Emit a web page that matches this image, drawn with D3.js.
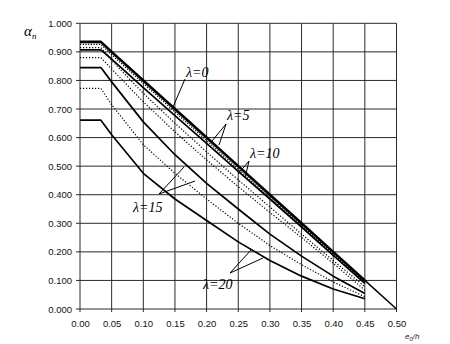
<!DOCTYPE html>
<html><head><meta charset="utf-8">
<script src="https://cdn.jsdelivr.net/npm/d3@7"></script>
<style>
html,body{margin:0;padding:0;background:#fff;}
svg{display:block;}
.tick text{font-family:"Liberation Sans",Arial,sans-serif;font-size:9.5px;fill:#111;}
</style></head>
<body>
<script>
// e0/h sample positions
const xPoints = [0, 0.033, 0.05, 0.10, 0.15, 0.20, 0.25, 0.30, 0.35, 0.40, 0.45];
// curves (alpha_n values at xPoints)
const lam0Solid  = [0.935, 0.935, 0.900, 0.800, 0.700, 0.600, 0.500, 0.400, 0.300, 0.200, 0.100];
const lam0Dotted = [0.926, 0.926, 0.890, 0.790, 0.690, 0.590, 0.490, 0.390, 0.292, 0.192, 0.094];
const lam5Solid  = [0.907, 0.907, 0.875, 0.775, 0.677, 0.580, 0.482, 0.385, 0.287, 0.188, 0.090];
const lam5Dotted = [0.915, 0.915, 0.870, 0.755, 0.650, 0.550, 0.452, 0.357, 0.262, 0.170, 0.078];
const lam10Dotted= [0.880, 0.880, 0.840, 0.725, 0.620, 0.522, 0.428, 0.338, 0.250, 0.160, 0.066];
const lam10Solid = [0.845, 0.845, 0.795, 0.655, 0.540, 0.440, 0.350, 0.262, 0.185, 0.115, 0.054];
const lam15Dotted= [0.772, 0.772, 0.715, 0.575, 0.475, 0.385, 0.300, 0.222, 0.155, 0.095, 0.043];
const lam20Solid = [0.661, 0.661, 0.610, 0.475, 0.385, 0.310, 0.235, 0.170, 0.115, 0.070, 0.036];
const tailX = [0.45, 0.50];
const tailY = [0.100, 0.000];

const xTicks = [0,0.05,0.10,0.15,0.20,0.25,0.30,0.35,0.40,0.45,0.50];
const yTicks = [0,0.1,0.2,0.3,0.4,0.5,0.6,0.7,0.8,0.9,1.0];

const series = [
  {v: lam20Solid, w:1.7, dash:null},
  {v: lam15Dotted, w:1.2, dash:"1.2,1.8"},
  {v: lam10Solid, w:1.7, dash:null},
  {v: lam10Dotted, w:1.2, dash:"1.2,1.8"},
  {v: lam5Dotted, w:1.2, dash:"1.2,1.8"},
  {v: lam5Solid, w:1.7, dash:null},
  {v: lam0Dotted, w:1.3, dash:"1.2,1.5"},
  {v: lam0Solid, w:2.6, dash:null}
];

const W=450,H=344;
const svg=d3.select("body").append("svg").attr("width",W).attr("height",H);
const x=d3.scaleLinear().domain([0,0.5]).range([80,396.5]);
const y=d3.scaleLinear().domain([0,1]).range([309,23.3]);

// grid
const g=svg.append("g");
g.selectAll("line.v").data(xTicks).enter().append("line")
 .attr("x1",d=>x(d)).attr("x2",d=>x(d)).attr("y1",y(1)).attr("y2",y(0)+3)
 .attr("stroke","#2a2a2a").attr("stroke-width",1);
g.selectAll("line.h").data(yTicks).enter().append("line")
 .attr("x1",x(0)-4).attr("x2",x(0.5)).attr("y1",d=>y(d)).attr("y2",d=>y(d))
 .attr("stroke","#2a2a2a").attr("stroke-width",1);

// axes labels
const ya=svg.append("g").attr("transform",`translate(${x(0)-4},0)`)
 .call(d3.axisLeft(y).tickValues(yTicks).tickFormat(d3.format(".3f")).tickSize(0).tickPadding(4));
ya.select(".domain").remove();
const xa=svg.append("g").attr("transform",`translate(0,${y(0)+3})`)
 .call(d3.axisBottom(x).tickValues(xTicks).tickFormat(d3.format(".2f")).tickSize(0).tickPadding(8));
xa.select(".domain").remove();

// curves
const line=d3.line().x((d,i)=>x(xPoints[i])).y(d=>y(d));
series.forEach(s=>{
  svg.append("path").attr("d",line(s.v)).attr("fill","none").attr("stroke","#000")
   .attr("stroke-width",s.w).attr("stroke-dasharray",s.dash).attr("stroke-linejoin","round");
});
svg.append("path").attr("d",d3.line().x(d=>x(d[0])).y(d=>y(d[1]))(tailX.map((d,i)=>[d,tailY[i]])))
 .attr("fill","none").attr("stroke","#000").attr("stroke-width",1.5);

// axis titles
const at=svg.append("text").attr("x",24).attr("y",36).attr("font-family","Liberation Serif,serif").attr("font-style","italic").attr("font-size",15);
at.append("tspan").text("α");
at.append("tspan").attr("font-size",9).attr("dy",3).text("n");
const et=svg.append("text").attr("x",405).attr("y",339).attr("font-family","Liberation Sans,sans-serif").attr("font-size",8).attr("fill","#222");
et.append("tspan").attr("font-style","italic").text("e");
et.append("tspan").attr("font-size",6).attr("dy",2).text("0");
et.append("tspan").attr("dy",-2).attr("font-style","italic").text("/h");

// lambda labels with leaders
const labels=[
 {t:"λ=0", x:186, y:77, leads:[[185,79,173,107]]},
 {t:"λ=5", x:227, y:120, leads:[[226,124,212,141],[226,124,219,145]]},
 {t:"λ=10", x:250, y:158, leads:[[249,161,238,174],[249,161,245,178]]},
 {t:"λ=15", x:133, y:212, leads:[[159,194,184,167],[159,194,195,181]]},
 {t:"λ=20", x:203, y:289, leads:[[230,273,251,250],[230,273,263,258]]}
];
labels.forEach(l=>{
  svg.append("text").attr("x",l.x).attr("y",l.y).attr("font-family","Liberation Serif,serif")
   .attr("font-style","italic").attr("font-size",14).text(l.t);
  l.leads.forEach(a=>svg.append("line").attr("x1",a[0]).attr("y1",a[1]).attr("x2",a[2]).attr("y2",a[3])
   .attr("stroke","#000").attr("stroke-width",1));
});
</script>
</body></html>
